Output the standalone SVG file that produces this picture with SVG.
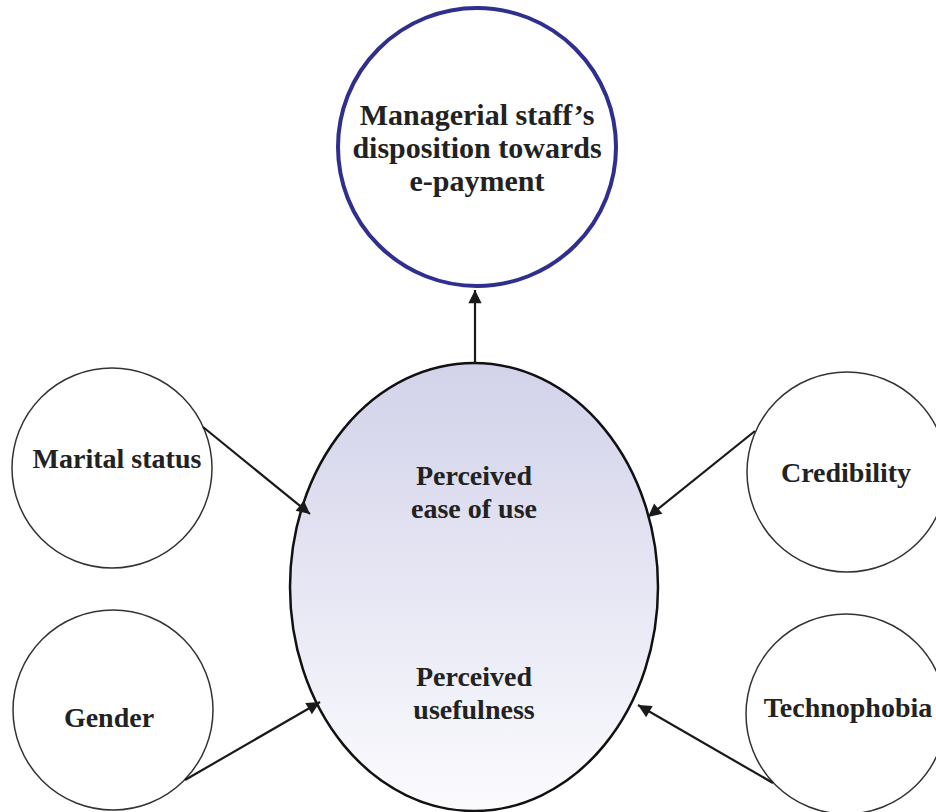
<svg xmlns="http://www.w3.org/2000/svg" width="936" height="812" viewBox="0 0 936 812">
<style>
text{font-family:"Liberation Serif","Times New Roman",serif;font-weight:bold;fill:#222;text-anchor:middle}
.t28{font-size:28px}
.t30{font-size:30px}
.small{fill:#fff;stroke:#333;stroke-width:1.5}
.conn{stroke:#1a1a1a;stroke-width:2.2;fill:none;marker-end:url(#ah)}
</style>
<defs>
<linearGradient id="g" x1="0" y1="0" x2="0" y2="1">
<stop offset="0" stop-color="#d2d2ea"/>
<stop offset="1" stop-color="#fbfbfe"/>
</linearGradient>
<marker id="ah" viewBox="0 0 10 10" refX="10" refY="5" markerWidth="7" markerHeight="6" markerUnits="strokeWidth" orient="auto">
<path d="M0,0 L10,5 L0,10 z" fill="#1a1a1a"/>
</marker>
</defs>
<rect width="936" height="812" fill="#ffffff"/>
<g id="node-main">
<ellipse cx="474" cy="587" rx="184" ry="224" fill="url(#g)" stroke="#111" stroke-width="2.5"/>
<text class="t28" x="474" y="485">Perceived</text>
<text class="t28" x="474" y="518">ease of use</text>
<text class="t28" x="474" y="686">Perceived</text>
<text class="t28" x="474" y="719">usefulness</text>
</g>
<g id="node-disposition">
<circle cx="477" cy="147" r="139" fill="#fff" stroke="#2e2f8e" stroke-width="4"/>
<text class="t30" x="477" y="125">Managerial staff’s</text>
<text class="t30" x="477" y="158">disposition towards</text>
<text class="t30" x="477" y="191">e-payment</text>
</g>
<g id="node-marital">
<circle class="small" cx="112" cy="468" r="100"/>
<text class="t28" x="117" y="468">Marital status</text>
</g>
<g id="node-gender">
<circle class="small" cx="113" cy="710" r="100"/>
<text class="t28" x="109" y="727">Gender</text>
</g>
<g id="node-credibility">
<circle class="small" cx="847" cy="472" r="100"/>
<text class="t28" x="846" y="482">Credibility</text>
</g>
<g id="node-technophobia">
<circle class="small" cx="846" cy="714" r="100"/>
<text class="t28" x="848" y="717">Technophobia</text>
</g>
<g id="connectors">
<line class="conn" x1="475" y1="363" x2="475" y2="290"/>
<line class="conn" x1="203" y1="427" x2="310" y2="514"/>
<line class="conn" x1="185" y1="780" x2="320" y2="702"/>
<line class="conn" x1="755" y1="431" x2="648" y2="517"/>
<line class="conn" x1="773" y1="783" x2="638" y2="705"/>
</g>
</svg>
